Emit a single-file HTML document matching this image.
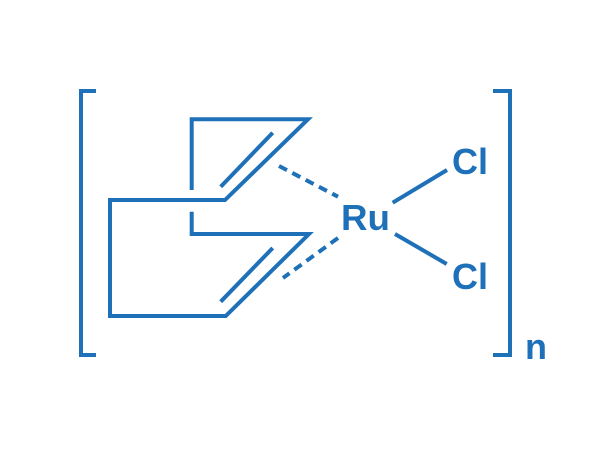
<!DOCTYPE html>
<html><head><meta charset="utf-8"><style>
html,body{margin:0;padding:0;background:#fff;}
</style></head><body>
<svg width="613" height="453" viewBox="0 0 613 453" xmlns="http://www.w3.org/2000/svg">
<g fill="none" stroke="#1e71b8" stroke-width="4" stroke-linejoin="miter">
<polyline points="96,91 81,91 81,355 96,355"/>
<polyline points="493,91 510,91 510,355 493,355"/>
<polyline points="191.7,190 191.7,119.3 308,119.3 225,200 110,200 110,316 225.7,316 309,234 191.7,234 191.7,211.7"/>
<line x1="272.7" y1="132.7" x2="220.7" y2="186.7"/>
<line x1="272.7" y1="248" x2="220.7" y2="301.7"/>
<line x1="279" y1="166" x2="338" y2="196.7" stroke-dasharray="9,6"/>
<line x1="338" y1="238" x2="283" y2="278" stroke-dasharray="9,6"/>
<line x1="392.7" y1="202.7" x2="447" y2="170"/>
<line x1="395" y1="234" x2="446.7" y2="264"/>
</g>
<g fill="#1e71b8" font-family="Liberation Sans, sans-serif" font-weight="bold" font-size="36">
<text x="341" y="230" textLength="49" lengthAdjust="spacingAndGlyphs">Ru</text>
<text x="452" y="174" textLength="36" lengthAdjust="spacingAndGlyphs">Cl</text>
<text x="452" y="289" textLength="36" lengthAdjust="spacingAndGlyphs">Cl</text>
<text x="525" y="359">n</text>
</g>
</svg>
</body></html>
